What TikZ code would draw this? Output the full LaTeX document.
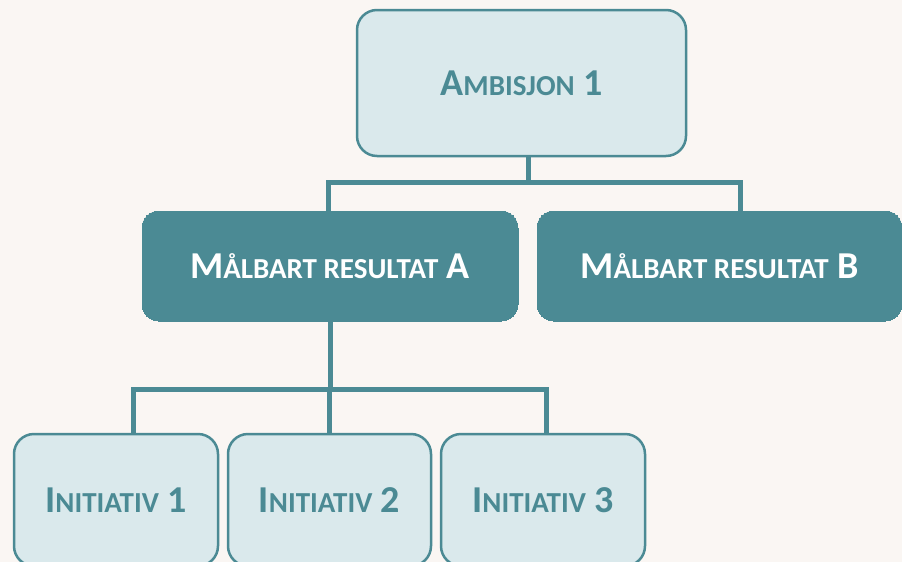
\documentclass[tikz,border=0pt]{standalone}
\usepackage{fontspec}
\setmainfont{Carlito}[Ligatures={NoCommon,NoRequired,NoContextual}]
\definecolor{teal}{HTML}{4B8A94}
\definecolor{lightteal}{HTML}{DAE9EC}
\definecolor{paper}{HTML}{FAF6F3}
% smaller capitals for the small-caps look
\newcommand{\smcaps}[1]{{\fontsize{29}{32}\selectfont #1}}
\begin{document}
\begin{tikzpicture}[x=1pt, y=1pt,
		topbox/.style={draw=teal, fill=lightteal, line width=2.5pt, rounded corners=20pt, text=teal, font=\fontsize{38}{40}\selectfont\bfseries, inner sep=0pt},
		resbox/.style={draw=teal, fill=teal, line width=0pt, rounded corners=17pt, text=white, font=\fontsize{38}{40}\selectfont\bfseries, inner sep=0pt},
		link/.style={draw=teal, line width=5pt}]
		\fill[paper] (0,0) rectangle (902,-562);
		\useasboundingbox (0,0) rectangle (902,-562);
		
		\node[topbox, minimum width=329pt, minimum height=146pt] (ambisjon) at (521.5, -83) {A\smcaps{MBISJON} 1};
		\node[resbox, minimum width=376pt, minimum height=110pt] (resA) at (330, -266) {M\smcaps{ÅLBART RESULTAT} A};
		\node[resbox, minimum width=365pt, minimum height=110pt] (resB) at (719.5, -266) {M\smcaps{ÅLBART RESULTAT} B};
		\node[topbox, minimum width=204pt, minimum height=132pt] (init1) at (116, -500) {I\smcaps{NITIATIV} 1};
		\node[topbox, minimum width=203pt, minimum height=132pt] (init2) at (329.5, -500) {I\smcaps{NITIATIV} 2};
		\node[topbox, minimum width=204pt, minimum height=132pt] (init3) at (543, -500) {I\smcaps{NITIATIV} 3};
		
		% lines from ambisjon down to the results
		\draw[link] ([xshift=6.5pt]ambisjon.south) -- ++(0,-26);
		\draw[link] ([xshift=-2pt]resA.north) -- ++(0,29) -| ([xshift=20.5pt]resB.north);
		% lines from result A down to the initiatives
		\draw[link] (resA.south) -- ++(0,-70);
		\draw[link] ([xshift=17pt]init1.north) -- ++(0,43) -| ([xshift=3pt]init3.north);
		\draw[link] (init2.north) -- ++(0,43);
	\end{tikzpicture}
\end{document}
